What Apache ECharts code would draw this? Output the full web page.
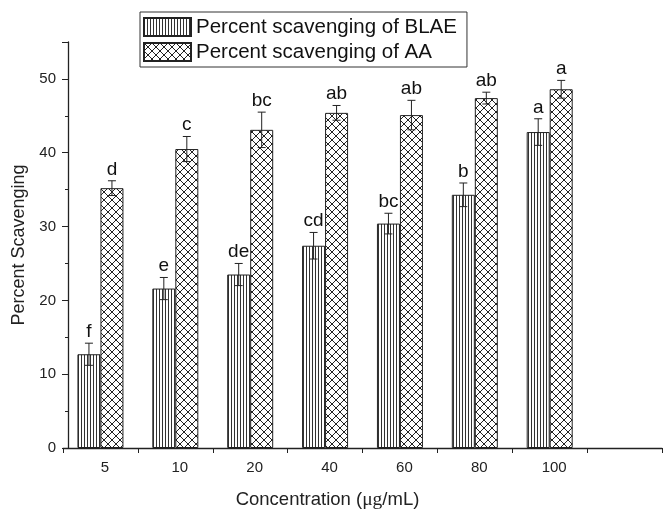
<!DOCTYPE html>
<html>
<head>
<meta charset="utf-8">
<script src="https://cdn.jsdelivr.net/npm/echarts@6/dist/echarts.min.js"></script>
<style>
  html, body { margin: 0; padding: 0; background: #fff; }
  #main { width: 670px; height: 515px; }
</style>
</head>
<body>
<div id="main"></div>
<script>
let categories = ['5', '10', '20', '40', '60', '80', '100', ''];
let blae = [12.7, 21.6, 23.5, 27.4, 30.4, 34.3, 42.8];
let blaeErr = [1.5, 1.5, 1.5, 1.8, 1.4, 1.6, 1.8];
let blaeLetters = ['f', 'e', 'de', 'cd', 'bc', 'b', 'a'];
let aa = [35.2, 40.5, 43.1, 45.4, 45.1, 47.4, 48.6];
let aaErr = [1.0, 1.7, 2.4, 1.0, 2.0, 0.8, 1.2];
let aaLetters = ['d', 'c', 'bc', 'ab', 'ab', 'ab', 'a'];

const FONT = 'Liberation Sans, Arial, sans-serif';
const BAR_W = 23;

// hatch patterns
function vlines() {
  const c = document.createElement('canvas');
  c.width = 3; c.height = 3;
  const ctx = c.getContext('2d');
  ctx.fillStyle = '#fff';
  ctx.fillRect(0, 0, 3, 3);
  ctx.fillStyle = '#333';
  ctx.fillRect(0, 0, 1, 3);
  return c;
}
function crossHatch() {
  const s = 8;
  const c = document.createElement('canvas');
  c.width = s; c.height = s;
  const ctx = c.getContext('2d');
  ctx.fillStyle = '#fff';
  ctx.fillRect(0, 0, s, s);
  ctx.strokeStyle = '#222';
  ctx.lineWidth = 1;
  ctx.beginPath();
  ctx.moveTo(0, 0); ctx.lineTo(s, s);
  ctx.moveTo(s, 0); ctx.lineTo(0, s);
  ctx.stroke();
  return c;
}

function errData(vals, errs) {
  return vals.map((v, i) => [i, v, errs[i]]);
}

function errRender(offset, letters) {
  return function (params, api) {
    const i = api.value(0);
    const v = api.value(1);
    const e = api.value(2);
    const p = api.coord([i, v]);
    const x = p[0] + offset;
    const yTop = api.coord([i, v + e])[1];
    const yBot = api.coord([i, v - e])[1];
    const cap = 4;
    const st = { stroke: '#222', lineWidth: 1 };
    return {
      type: 'group',
      children: [
        { type: 'line', shape: { x1: x, y1: yTop, x2: x, y2: yBot }, style: st },
        { type: 'line', shape: { x1: x - cap, y1: yTop, x2: x + cap, y2: yTop }, style: st },
        { type: 'line', shape: { x1: x - cap, y1: yBot, x2: x + cap, y2: yBot }, style: st },
        {
          type: 'text',
          style: {
            text: letters[params.dataIndex],
            x: x, y: yTop - 2,
            align: 'center', verticalAlign: 'bottom',
            fill: '#111', font: '19px ' + FONT
          }
        }
      ]
    };
  };
}

let myChart = echarts.init(document.getElementById('main'));

let option = {
  backgroundColor: '#fff',
  animation: false,
  legend: {
    orient: 'vertical',
    left: 140,
    top: 12,
    padding: [3, 10, 3, 3],
    itemGap: 1,
    itemWidth: 47,
    itemHeight: 18,
    borderColor: '#333',
    borderWidth: 1,
    borderRadius: 0,
    textStyle: { fontFamily: FONT, fontSize: 20.5, lineHeight: 24, color: '#111' },
    data: [
      { name: 'Percent scavenging of BLAE', icon: 'rect' },
      { name: 'Percent scavenging of AA', icon: 'rect' }
    ]
  },
  grid: { left: 63, right: 8, top: 42, bottom: 57 },
  xAxis: {
    type: 'category',
    data: categories,
    name: 'Concentration ({u|μg}/mL)',
    nameLocation: 'middle',
    nameGap: 42,
    nameTextStyle: {
      fontFamily: FONT, fontSize: 18.5, color: '#222',
      padding: [0, 70, 0, 0],
      rich: { u: { fontFamily: 'Liberation Serif, serif', fontSize: 19.5, color: '#222' } }
    },
    axisLine: { lineStyle: { color: '#222', width: 1.3 } },
    axisTick: { show: true, length: 5, inside: false, lineStyle: { color: '#222' } },
    axisLabel: { fontFamily: FONT, fontSize: 15, color: '#222', margin: 12, padding: [0, 0, 0, 9] }
  },
  yAxis: {
    type: 'value',
    min: 0,
    max: 55,
    interval: 10,
    offset: -5,
    name: 'Percent Scavenging',
    nameLocation: 'middle',
    nameGap: 39,
    nameTextStyle: { fontFamily: FONT, fontSize: 18, color: '#222' },
    axisLine: { show: true, lineStyle: { color: '#222', width: 1.3 } },
    axisTick: { show: true, length: 6, lineStyle: { color: '#222' } },
    minorTick: { show: true, splitNumber: 2, length: 3, lineStyle: { color: '#222' } },
    splitLine: { show: false },
    axisLabel: { fontFamily: FONT, fontSize: 15, color: '#222', margin: 12, showMaxLabel: false }
  },
  series: [
    {
      name: 'Percent scavenging of BLAE',
      type: 'bar',
      barWidth: BAR_W,
      barGap: '0%',
      data: blae,
      itemStyle: { color: { image: vlines(), repeat: 'repeat' }, borderColor: '#222', borderWidth: 1 }
    },
    {
      name: 'Percent scavenging of AA',
      type: 'bar',
      barWidth: BAR_W,
      barGap: '0%',
      data: aa,
      itemStyle: { color: { image: crossHatch(), repeat: 'repeat' }, borderColor: '#222', borderWidth: 1 }
    },
    {
      type: 'custom',
      renderItem: errRender(-BAR_W / 2, blaeLetters),
      data: errData(blae, blaeErr),
      z: 5
    },
    {
      type: 'custom',
      renderItem: errRender(BAR_W / 2, aaLetters),
      data: errData(aa, aaErr),
      z: 5
    }
  ]
};

myChart.setOption(option);
</script>
</body>
</html>
